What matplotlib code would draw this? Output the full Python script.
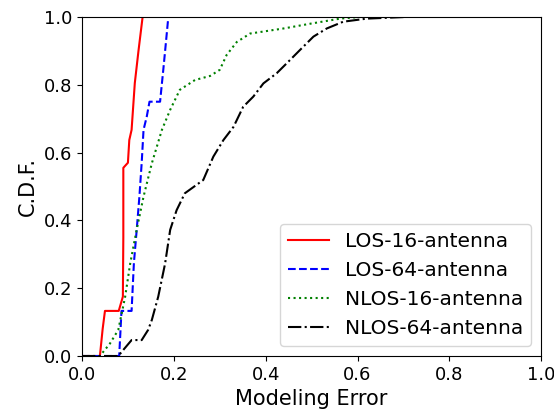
import matplotlib
matplotlib.use("Agg")
import matplotlib.pyplot as plt

# CDF curves (x = modeling error, y = C.D.F.)
los16_x = [0.0, 0.039, 0.045, 0.05, 0.08, 0.089, 0.09, 0.09, 0.1, 0.103, 0.108, 0.115, 0.123, 0.132, 1.0]
los16_y = [0.0, 0.0, 0.08, 0.133, 0.133, 0.175, 0.35, 0.555, 0.57, 0.637, 0.667, 0.805, 0.9, 1.0, 1.0]

los64_x = [0.0, 0.081, 0.086, 0.108, 0.113, 0.119, 0.125, 0.13, 0.134, 0.141, 0.147, 0.17, 0.177, 0.181, 0.188, 1.0]
los64_y = [0.0, 0.0, 0.133, 0.133, 0.274, 0.37, 0.47, 0.57, 0.667, 0.706, 0.75, 0.75, 0.844, 0.9, 1.0, 1.0]

nlos16_x = [0.0, 0.039, 0.061, 0.079, 0.094, 0.105, 0.119, 0.134, 0.152, 0.174, 0.192, 0.213, 0.246,
            0.279, 0.3, 0.315, 0.337, 0.366, 0.439, 0.497, 0.562, 0.606, 1.0]
nlos16_y = [0.0, 0.0, 0.037, 0.077, 0.175, 0.273, 0.372, 0.47, 0.568, 0.667, 0.726, 0.785, 0.814,
            0.826, 0.844, 0.888, 0.926, 0.951, 0.966, 0.98, 0.995, 1.0, 1.0]

nlos64_x = [0.0, 0.079, 0.09, 0.108, 0.13, 0.144, 0.152, 0.166, 0.181, 0.192, 0.206, 0.224, 0.264,
            0.286, 0.308, 0.33, 0.351, 0.373, 0.395, 0.424, 0.453, 0.475, 0.504, 0.533, 0.569, 0.62, 0.707, 1.0]
nlos64_y = [0.0, 0.0, 0.018, 0.047, 0.047, 0.077, 0.106, 0.175, 0.273, 0.372, 0.43, 0.48, 0.519,
            0.588, 0.637, 0.676, 0.735, 0.765, 0.804, 0.834, 0.873, 0.903, 0.942, 0.966, 0.986, 0.995, 1.0, 1.0]

fig = plt.figure(figsize=(5.54, 4.13), dpi=100)
ax = fig.add_axes([0.148, 0.138, 0.829, 0.821])

ax.plot(los16_x, los16_y, color="red", linestyle="-", linewidth=1.5, label="LOS-16-antenna")
ax.plot(los64_x, los64_y, color="blue", linestyle="--", linewidth=1.5, label="LOS-64-antenna")
ax.plot(nlos16_x, nlos16_y, color="green", linestyle=":", linewidth=1.5, label="NLOS-16-antenna")
ax.plot(nlos64_x, nlos64_y, color="black", linestyle="-.", linewidth=1.5, label="NLOS-64-antenna")

ax.set_xlim(0, 1)
ax.set_ylim(0, 1)
ax.set_xlabel("Modeling Error", fontsize=15)
ax.set_ylabel("C.D.F.", fontsize=15)
ax.tick_params(axis="both", labelsize=13)
ax.legend(loc="lower right", fontsize=14.5)

fig.savefig("out.png", dpi=100)
